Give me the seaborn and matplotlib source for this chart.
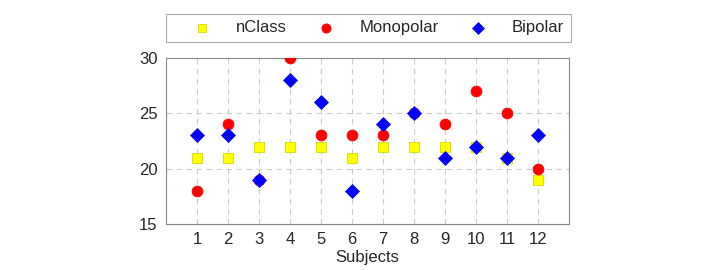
import numpy as np
import pandas as pd
import matplotlib
matplotlib.use("Agg")
import matplotlib.pyplot as plt
import seaborn as sns

# Data
subjects = [1, 2, 3, 4, 5, 6, 7, 8, 9, 10, 11, 12]
nclass = [21, 21, 22, 22, 22, 21, 22, 22, 22, 22, 21, 19]
monopolar = [18, 24, 19, 30, 23, 23, 23, 25, 24, 27, 25, 20]
bipolar = [23, 23, 19, 28, 26, 18, 24, 25, 21, 22, 21, 23]

sns.set_style("white")
plt.rcParams["font.family"] = ["Liberation Sans", "DejaVu Sans"]

fig = plt.figure(figsize=(7.23, 2.7), dpi=100)
ax = fig.add_axes([166 / 723, 1 - 224 / 270, (569 - 166) / 723, (224 - 58) / 270])

df = pd.DataFrame({"Subjects": subjects, "nClass": nclass,
                   "Monopolar": monopolar, "Bipolar": bipolar})

sns.scatterplot(data=df, x="Subjects", y="nClass", ax=ax, marker="s",
                color="#ffff00", edgecolor="#d8d800", linewidth=0.6, s=55,
                label="nClass", zorder=3)
sns.scatterplot(data=df, x="Subjects", y="Monopolar", ax=ax, marker="o",
                color="#ff0000", edgecolor="#ff0000", s=60,
                label="Monopolar", zorder=4)
sns.scatterplot(data=df, x="Subjects", y="Bipolar", ax=ax, marker="D",
                color="#0000ff", edgecolor="#0000ff", s=50,
                label="Bipolar", zorder=5)

ax.set_xlim(0, 13)
ax.set_ylim(15, 30)
ax.set_xticks(subjects)
ax.set_yticks([15, 20, 25, 30])
ax.set_xlabel("Subjects", fontsize=12, labelpad=2)
ax.set_ylabel("")
ax.tick_params(labelsize=12, length=0, pad=6)
ax.grid(True, linestyle=(0, (5, 4)), color="#cccccc", linewidth=0.8)
for sp in ax.spines.values():
    sp.set_color("#888888")
    sp.set_linewidth(0.8)

leg = ax.legend(loc="lower left", bbox_to_anchor=(0, 1.096, 1.005, 0.193),
                mode="expand", ncol=3, fontsize=12, frameon=True,
                fancybox=False, edgecolor="#999999", borderaxespad=0,
                handlelength=3.56, handletextpad=0.26, markerscale=0.85)
leg.get_frame().set_linewidth(0.8)

plt.savefig("out.png", dpi=100)
